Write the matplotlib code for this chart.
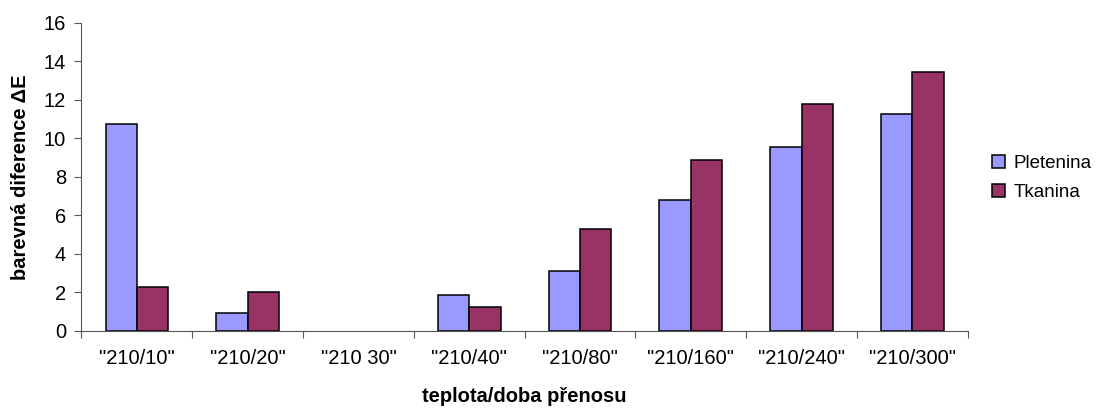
import matplotlib
matplotlib.use("Agg")
import matplotlib.pyplot as plt
import numpy as np
from matplotlib.patches import Patch

plt.rcParams['font.family'] = ['Liberation Sans', 'DejaVu Sans']

categories = ['"210/10"', '"210/20"', '"210 30"', '"210/40"', '"210/80"',
              '"210/160"', '"210/240"', '"210/300"']
pletenina = [10.72, 0.90, 0.0, 1.85, 3.12, 6.77, 9.53, 11.24]
tkanina = [2.25, 2.01, 0.0, 1.25, 5.28, 8.87, 11.78, 13.47]
series_names = ['Pletenina', 'Tkanina']
colors = ['#9999FF', '#993366']

fig = plt.figure(figsize=(11.01, 4.08), dpi=100)
ax = fig.add_axes([0.0740, 0.1895, 0.8050, 0.7545])

x = np.arange(len(categories))
w = 0.283
for vals, off, c in [(pletenina, -w / 2, colors[0]), (tkanina, w / 2, colors[1])]:
    v = np.array(vals)
    mask = v > 0
    ax.bar(x[mask] + off, v[mask], width=w, color=c, edgecolor='black', linewidth=1.1)

ax.set_xlim(-0.5, len(categories) - 0.5)
ax.set_ylim(0, 16)
ax.set_yticks(np.arange(0, 17, 2))
ax.tick_params(axis='y', labelsize=14.5, length=5, width=0.8, color='#555555', pad=6)

ax.set_xticks(x)
ax.set_xticklabels(categories, fontsize=14.5)
ax.tick_params(axis='x', length=0, pad=13)
ax.set_xticks(np.arange(-0.5, len(categories), 1.0), minor=True)
ax.tick_params(axis='x', which='minor', length=5, width=0.8, color='#555555')

for s in ['top', 'right']:
    ax.spines[s].set_visible(False)
for s in ['left', 'bottom']:
    ax.spines[s].set_color('#555555')
    ax.spines[s].set_linewidth(0.8)

ax.set_ylabel('barevná diference ΔE', fontsize=14.5, fontweight='bold', labelpad=10)
ax.set_xlabel('teplota/doba přenosu', fontsize=14.5, fontweight='bold', labelpad=14)

handles = [Patch(facecolor=c, edgecolor='black', linewidth=1.1) for c in colors]
fig.legend(handles, series_names, loc='center left', bbox_to_anchor=(0.901, 0.5637),
           frameon=False, fontsize=13.5, handlelength=0.7, handleheight=0.7,
           handletextpad=0.45, labelspacing=0.65, borderpad=0, borderaxespad=0)

fig.savefig('out.png', dpi=100)
